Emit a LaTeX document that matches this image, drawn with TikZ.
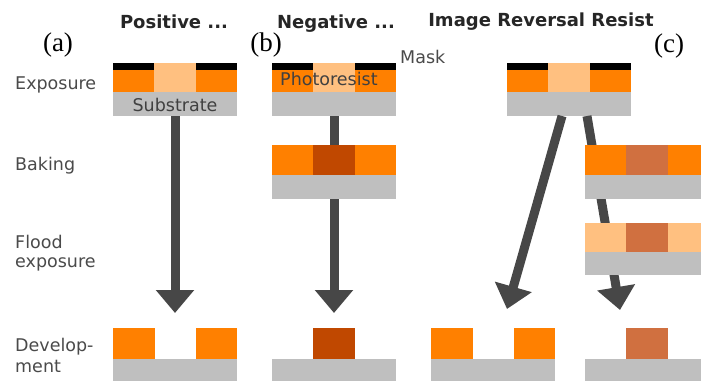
\documentclass[tikz,border=0pt]{standalone}
\usepackage{fontspec}
\newfontfamily\lab{DejaVu Sans}
\newfontfamily\ser{Liberation Serif}
\usetikzlibrary{arrows.meta}
\definecolor{org}{HTML}{FF8000}
\definecolor{lorg}{HTML}{FFC080}
\definecolor{dorg}{HTML}{C04800}
\definecolor{brn}{HTML}{D07040}
\definecolor{subc}{HTML}{BFBFBF}
\definecolor{arr}{HTML}{474747}
\definecolor{txt}{HTML}{4A4A4A}
\tikzset{
  cell/.style={inner sep=0pt, outer sep=0pt, draw=none, anchor=north west},
  bigarrow/.style={line width=9pt, draw=arr, -{Triangle[length=23pt,width=37pt]}},
  ttl/.style={font=\lab\bfseries\fontsize{18}{20}\selectfont, text=black!85, anchor=base, inner sep=0pt},
  rowlab/.style={font=\lab\fontsize{17.5}{21}\selectfont, text=txt, anchor=base west, inner sep=0pt, align=left},
  intext/.style={font=\lab\fontsize{17.5}{21}\selectfont, text=black!75, anchor=base, inner sep=0pt},
  letter/.style={font=\ser\fontsize{27}{29}\selectfont, anchor=base, inner sep=0pt}
}
\newcommand\rowcells[7]{%
  \node[cell,fill=#5,minimum width=41.8pt,minimum height=#4pt] (#1l) at (#2,#3) {};
  \node[cell,fill=#6,minimum width=41.8pt,minimum height=#4pt] (#1m) at ({#2+41.33},#3) {};
  \node[cell,fill=#7,minimum width=41.33pt,minimum height=#4pt] (#1r) at ({#2+82.67},#3) {};
}
\newcommand\subst[4]{%
  \node[cell,fill=subc,minimum width=124pt,minimum height=#4pt] (#1) at (#2,#3) {};
}
\newcommand\maskbars[3]{%
  \node[cell,fill=black,minimum width=41.33pt,minimum height=7pt] (#1l) at (#2,#3) {};
  \node[cell,fill=black,minimum width=41.33pt,minimum height=7pt] (#1r) at ({#2+82.67},#3) {};
}
\begin{document}
\begin{tikzpicture}[x=1pt,y=-1pt]
\useasboundingbox (0,0) rectangle (701,380);
\clip (0,0) rectangle (701,380);

% titles
\node[ttl] (tpos) at (174,28) {Positive ...};
\node[ttl] (tneg) at (336,28) {Negative ...};
\node[ttl] (tirr) at (541,27) {Image Reversal Resist};

% letters
\node[letter] (la) at (58,51) {(a)};
\node[letter] (lb) at (266,51) {(b)};
\node[letter] (lc) at (669,52) {(c)};

% row labels
\node[rowlab] (rexp) at (15,89) {Exposure};
\node[rowlab] (rbak) at (15,170) {Baking};
\node[rowlab] (rfl1) at (15,248) {Flood};
\node[rowlab] (rfl2) at (15,267) {exposure};
\node[rowlab] (rdv1) at (15,351) {Develop-};
\node[rowlab] (rdv2) at (15,372) {ment};

% arrow end points
\coordinate (atip) at (175,313);
\coordinate (btip) at (334,313);
\coordinate (cstartL) at (562,116);
\coordinate (cstartR) at (587,116);
\coordinate (ctipL) at (507,309);
\coordinate (ctipR) at (620,310);

% ---- exposure row
\rowcells{aexp}{113}{63}{29}{org}{lorg}{org}
\subst{asub}{113}{92}{24}
\maskbars{amask}{113}{63}
\rowcells{bexp}{272}{63}{29}{org}{lorg}{org}
\subst{bsub}{272}{92}{24}
\maskbars{bmask}{272}{63}
\rowcells{cexp}{507}{63}{29}{org}{lorg}{org}
\subst{csub}{507}{92}{24}
\maskbars{cmask}{507}{63}

% arrows (behind the later layers)
\draw[bigarrow] (asub.south) -- (atip);
\draw[bigarrow] (bsub.south) -- (btip);
\draw[bigarrow] (cstartL) -- (ctipL);
\draw[bigarrow] (cstartR) -- (ctipR);

% ---- baking row
\rowcells{bbak}{272}{145}{30}{org}{dorg}{org}
\subst{bbsub}{272}{175}{24}
\rowcells{cbak}{585}{145}{30}{org}{brn}{org}
\subst{cbsub}{585}{175}{24}

% ---- flood exposure row
\rowcells{cfl}{585}{223}{29}{lorg}{brn}{lorg}
\subst{cfsub}{585}{252}{23}

% ---- development row
\node[cell,fill=org,minimum width=41.8pt,minimum height=31pt] (adevl) at (113,328) {};
\node[cell,fill=org,minimum width=41.33pt,minimum height=31pt] (adevr) at (195.67,328) {};
\subst{adsub}{113}{359}{24}
\node[cell,fill=dorg,minimum width=41.8pt,minimum height=31pt] (bdevm) at (313.33,328) {};
\subst{bdsub}{272}{359}{24}
\node[cell,fill=org,minimum width=41.8pt,minimum height=31pt] (cdevl) at (431,328) {};
\node[cell,fill=org,minimum width=41.33pt,minimum height=31pt] (cdevr) at (513.67,328) {};
\subst{cdsub}{431}{359}{24}
\node[cell,fill=brn,minimum width=41.8pt,minimum height=31pt] (ddevm) at (626.33,328) {};
\subst{ddsub}{585}{359}{24}

% in-picture texts
\node[intext] (tsub) at (175,111) {Substrate};
\node[intext, anchor=base west] (tphr) at (280,85) {Photoresist};
\node[intext, anchor=base west, text=txt] (tmask) at (400,63) {Mask};
\end{tikzpicture}
\end{document}
